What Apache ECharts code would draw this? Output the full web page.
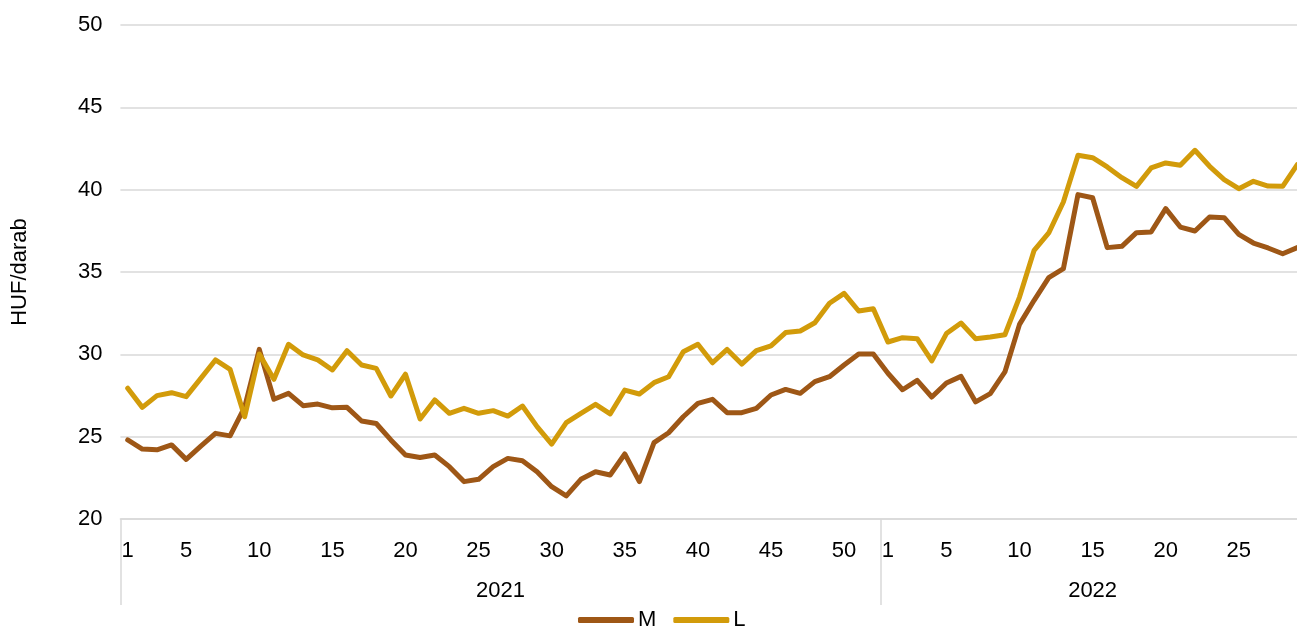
<!DOCTYPE html>
<html>
<head>
<meta charset="utf-8">
<script src="https://cdn.jsdelivr.net/npm/echarts@6/dist/echarts.min.js"></script>
<style>
html,body{margin:0;padding:0;background:#fff;}
#chart{width:1297px;height:629px;}
</style>
</head>
<body>
<div id="chart"></div>
<script>
var years = ['2021', '2022'];
var weeks2021 = ['1','2','3','4','5','6','7','8','9','10','11','12','13','14','15','16','17','18','19','20','21','22','23','24','25','26','27','28','29','30','31','32','33','34','35','36','37','38','39','40','41','42','43','44','45','46','47','48','49','50','51','52'];
var weeks2022 = ['1','2','3','4','5','6','7','8','9','10','11','12','13','14','15','16','17','18','19','20','21','22','23','24','25','26','27','28','29'];
var yTicks = [20, 25, 30, 35, 40, 45, 50];

var M2021 = [24.80,24.25,24.20,24.50,23.62,24.43,25.20,25.05,26.80,30.30,27.27,27.63,26.88,26.98,26.75,26.78,25.95,25.80,24.80,23.89,23.74,23.89,23.18,22.27,22.41,23.18,23.68,23.54,22.87,21.96,21.40,22.41,22.87,22.67,23.95,22.27,24.64,25.24,26.21,27.02,27.27,26.46,26.46,26.72,27.53,27.87,27.63,28.34,28.64,29.35,30.02,30.02];
var M2022 = [28.85,27.85,28.42,27.41,28.26,28.66,27.11,27.61,28.93,31.82,33.28,34.66,35.20,39.70,39.51,36.48,36.56,37.39,37.43,38.85,37.73,37.49,38.34,38.30,37.29,36.76,36.46,36.11,36.48];
var L2021 = [27.94,26.78,27.49,27.67,27.43,28.54,29.66,29.09,26.21,30.02,28.48,30.61,29.96,29.66,29.05,30.22,29.35,29.15,27.47,28.79,26.07,27.23,26.42,26.72,26.42,26.58,26.25,26.86,25.61,24.55,25.85,26.42,26.96,26.38,27.83,27.59,28.28,28.64,30.16,30.61,29.49,30.30,29.41,30.22,30.51,31.32,31.42,31.92,33.10,33.70,32.63,32.77];
var L2022 = [30.75,31.01,30.95,29.60,31.26,31.90,30.95,31.05,31.19,33.48,36.32,37.37,39.25,42.09,41.94,41.38,40.73,40.20,41.32,41.62,41.48,42.39,41.42,40.61,40.06,40.51,40.22,40.20,41.52];

var categories = weeks2021.concat(weeks2022);
var n1 = weeks2021.length, n2 = weeks2022.length, nAll = n1 + n2;
var FONT = 'Liberation Sans, Arial, sans-serif';
var GRIDC = '#d9d9d9';

var chart = echarts.init(document.getElementById('chart'), null, {renderer: 'canvas'});
chart.setOption({
  animation: false,
  backgroundColor: '#fff',
  textStyle: {fontFamily: FONT},
  grid: {left: 120.4, right: -7.6, top: 25, bottom: 110, containLabel: false, outerBoundsMode: 'none'},
  legend: {
    left: 573, top: 604,
    icon: 'roundRect', itemWidth: 56, itemHeight: 6, itemGap: 17,
    textStyle: {fontFamily: FONT, fontSize: 22, color: '#000', padding: [0, 0, 0, -1]},
    data: ['M', 'L']
  },
  xAxis: [{
    type: 'category',
    data: categories,
    boundaryGap: true,
    axisLine: {show: true, lineStyle: {color: GRIDC, width: 1.5}},
    axisTick: {show: false},
    axisLabel: {
      fontFamily: FONT, fontSize: 22, color: '#000', margin: 21,
      interval: function (idx, val) { return val === '1' || Number(val) % 5 === 0; }
    },
    splitLine: {show: false}
  }, {
    type: 'value',
    position: 'bottom',
    min: 0, max: nAll,
    axisLine: {show: false},
    splitLine: {show: false},
    axisTick: {show: true, length: 86, lineStyle: {color: GRIDC, width: 1.5}, customValues: [0, n1, nAll]},
    axisLabel: {
      fontFamily: FONT, fontSize: 22, color: '#000', margin: 61,
      customValues: [n1 / 2, n1 + n2 / 2],
      formatter: function (v) { return v < n1 ? years[0] : years[1]; }
    }
  }],
  yAxis: {
    type: 'value',
    min: yTicks[0], max: yTicks[yTicks.length - 1], interval: 5,
    name: 'HUF/darab', nameLocation: 'middle', nameGap: 89,
    nameTextStyle: {fontFamily: FONT, fontSize: 22, color: '#000'},
    axisLine: {show: false},
    axisTick: {show: false},
    axisLabel: {fontFamily: FONT, fontSize: 22, color: '#000', margin: 18},
    splitLine: {show: true, lineStyle: {color: GRIDC, width: 1.5}}
  },
  series: [{
    name: 'M', type: 'line', xAxisIndex: 0,
    data: M2021.concat(M2022),
    symbol: 'none', color: '#9E5716',
    lineStyle: {width: 5, color: '#9E5716', join: 'round', cap: 'round'}
  }, {
    name: 'L', type: 'line', xAxisIndex: 0,
    data: L2021.concat(L2022),
    symbol: 'none', color: '#D29B0A',
    lineStyle: {width: 5, color: '#D29B0A', join: 'round', cap: 'round'}
  }]
});
</script>
</body>
</html>
